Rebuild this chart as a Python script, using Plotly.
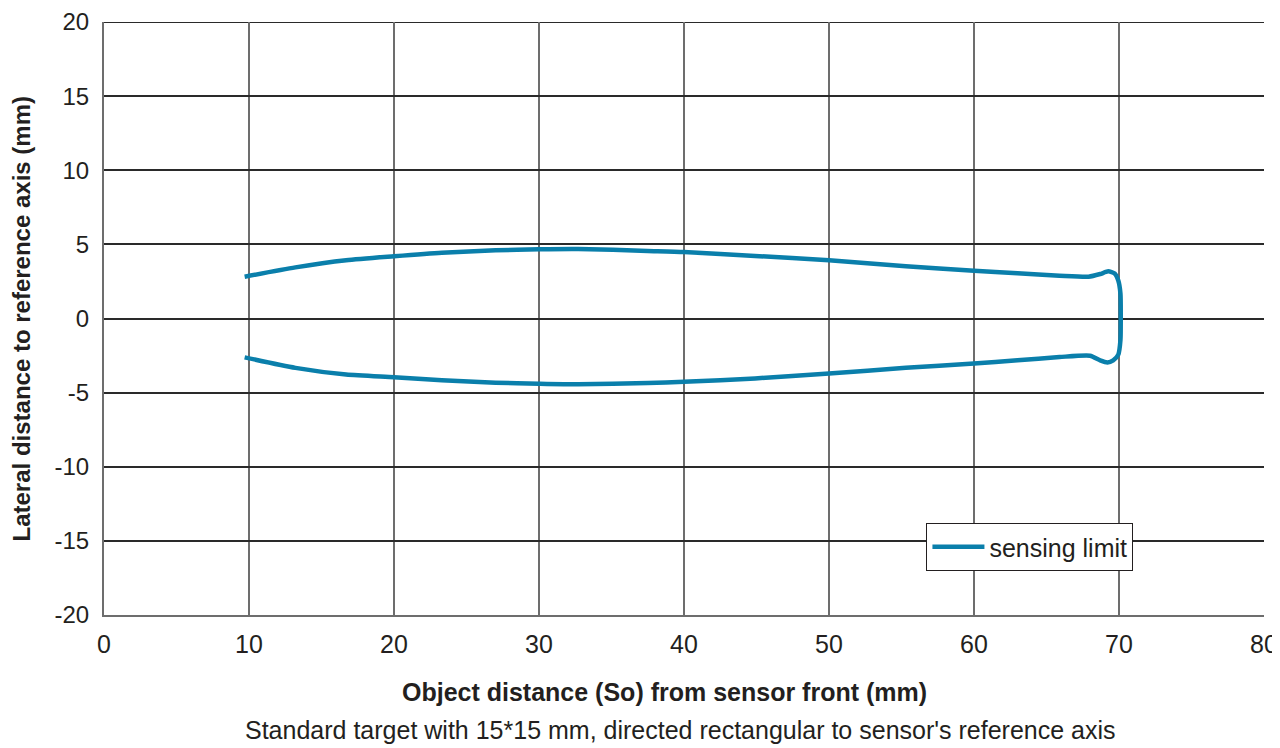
import plotly.graph_objects as go

# sensing limit contour, traced upper edge left->right, round the tip, lower edge right->left
x_mm = [9.7, 13.2, 16.7, 20.0, 23.3, 27.0, 30.0, 32.7, 37.5, 40.0, 44.9, 50.0, 55.3, 60.0, 63.0,
        65.9, 67.9, 68.7, 69.26, 69.7, 69.95, 70.1, 70.12, 70.1, 69.95, 69.6, 69.2, 68.7, 68.0,
        65.9, 63.0, 60.0, 55.3, 50.0, 44.9, 40.0, 37.5, 32.7, 30.0, 27.0, 23.3, 20.0, 16.7, 13.2, 9.7]
y_mm = [2.82, 3.45, 3.93, 4.2, 4.44, 4.6, 4.67, 4.69, 4.56, 4.49, 4.22, 3.93, 3.53, 3.22, 3.05,
        2.89, 2.82, 3.0, 3.18, 3.04, 2.56, 1.67, 0.0, -1.44, -2.44, -2.82, -2.96, -2.82, -2.51,
        -2.6, -2.82, -3.04, -3.33, -3.71, -4.04, -4.27, -4.35, -4.44, -4.4, -4.33, -4.16, -3.96,
        -3.78, -3.33, -2.62]

x_ticks = [0, 10, 20, 30, 40, 50, 60, 70, 80]
y_ticks = [-20, -15, -10, -5, 0, 5, 10, 15, 20]
y_tick_labels = ["-20", "-15", "-10", "-5", "0", "5", "10", "15", "20"]

font_name = "Liberation Sans, Arial, sans-serif"
text_col = "#231f20"
line_col = "#0a7fab"
hgrid_col = "#2a2a2a"

fig = go.Figure()
fig.add_trace(go.Scatter(
    x=x_mm, y=y_mm, mode="lines", name="sensing limit",
    line=dict(color=line_col, width=4.5, shape="spline", smoothing=0.6),
))

# page body adds an 8px offset, so margins are set to compensate
fig.update_layout(
    width=1280, height=748,
    margin=dict(l=96, r=24, t=14, b=141, autoexpand=False),
    paper_bgcolor="white", plot_bgcolor="white",
    font=dict(family=font_name, size=25, color=text_col),
    showlegend=True,
    legend=dict(
        x=0.709, y=0.155, xanchor="left", yanchor="top",
        bgcolor="white", bordercolor="#231f20", borderwidth=1,
        font=dict(size=25), itemwidth=52,
    ),
    xaxis=dict(
        range=[0, 80], tickvals=x_ticks, ticks="", showgrid=True,
        gridcolor="#6d6d6d", gridwidth=2, zeroline=False,
        showline=True, linecolor="#6d6d6d", linewidth=2,
        ticklabelstandoff=6, automargin=False, ticklabeloverflow="allow",
    ),
    yaxis=dict(
        range=[-20, 20], tickvals=y_ticks, ticktext=y_tick_labels, ticks="",
        showgrid=True, gridcolor=hgrid_col, gridwidth=2, zeroline=False,
        showline=True, linecolor="#6d6d6d", linewidth=2,
        ticklabelstandoff=8, automargin=False, ticklabeloverflow="allow",
        tickfont=dict(size=24),
    ),
)

# top grid line at the range end (plotly drops it)
fig.add_shape(
    type="line", xref="x", yref="y", x0=x_ticks[0], x1=x_ticks[-1],
    y0=y_ticks[-1], y1=y_ticks[-1], line=dict(color=hgrid_col, width=2), layer="below",
)

fig.add_annotation(
    text="<b>Object distance (So) from sensor front (mm)</b>",
    xref="paper", yref="paper", x=0.483, y=-0.1298, showarrow=False,
    xanchor="center", yanchor="middle", font=dict(size=25),
)
fig.add_annotation(
    text="Standard target with 15*15 mm, directed rectangular to sensor's reference axis",
    xref="paper", yref="paper", x=0.497, y=-0.1939, showarrow=False,
    xanchor="center", yanchor="middle", font=dict(size=25),
)
fig.add_annotation(
    text="<b>Lateral distance to reference axis (mm)</b>",
    xref="paper", yref="paper", x=-0.0707, y=0.5, showarrow=False,
    textangle=-90, xanchor="center", yanchor="middle", font=dict(size=24),
)

fig.write_html("out.html")
